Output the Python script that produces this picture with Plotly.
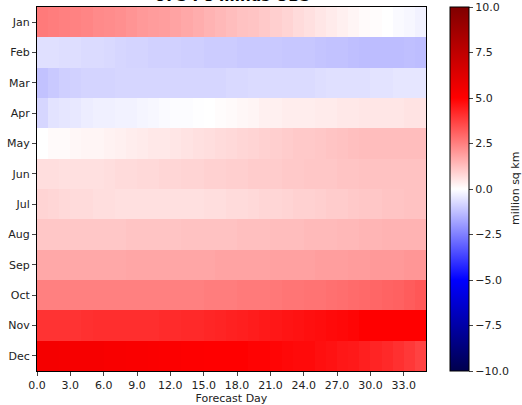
import plotly.graph_objects as go

months = ["Jan", "Feb", "Mar", "Apr", "May", "Jun", "Jul", "Aug", "Sep", "Oct", "Nov", "Dec"]
days = [d + 0.5 for d in range(35)]
xtick_vals = [0, 3, 6, 9, 12, 15, 18, 21, 24, 27, 30, 33]
xtick_text = ["0.0", "3.0", "6.0", "9.0", "12.0", "15.0", "18.0", "21.0", "24.0", "27.0", "30.0", "33.0"]
cbar_vals = [-10, -7.5, -5, -2.5, 0, 2.5, 5, 7.5, 10]
cbar_text = ["\u221210.0", "\u22127.5", "\u22125.0", "\u22122.5", "0.0", "2.5", "5.0", "7.5", "10.0"]

jan = [2.6, 2.55, 2.5, 2.45, 2.4, 2.3, 2.25, 2.2, 2.1, 2.0, 1.95, 1.9, 1.8, 1.7, 1.6, 1.5, 1.4, 1.3, 1.2, 1.15, 1.05, 0.95, 0.85, 0.7, 0.6, 0.5, 0.4, 0.3, 0.2, 0.1, 0.05, 0.0, -0.1, -0.15, -0.25]
feb = [-0.6, -0.6, -0.65, -0.65, -0.7, -0.7, -0.75, -0.8, -0.85, -0.85, -0.9, -0.9, -0.9, -0.95, -0.95, -1.0, -1.0, -1.0, -1.05, -1.05, -1.05, -1.05, -1.1, -1.1, -1.1, -1.15, -1.2, -1.2, -1.25, -1.3, -1.3, -1.3, -1.3, -1.25, -1.3]
mar = [-1.2, -1.05, -0.95, -0.9, -0.85, -0.85, -0.85, -0.8, -0.8, -0.8, -0.8, -0.8, -0.8, -0.8, -0.8, -0.8, -0.8, -0.75, -0.75, -0.7, -0.7, -0.7, -0.7, -0.7, -0.7, -0.65, -0.6, -0.6, -0.6, -0.6, -0.55, -0.55, -0.5, -0.5, -0.5]
apr = [-0.8, -0.55, -0.5, -0.45, -0.35, -0.3, -0.3, -0.25, -0.25, -0.2, -0.15, -0.1, -0.05, -0.05, -0.02, 0.0, 0.05, 0.1, 0.15, 0.2, 0.3, 0.3, 0.35, 0.35, 0.35, 0.4, 0.4, 0.45, 0.45, 0.5, 0.5, 0.5, 0.5, 0.55, 0.55]
may = [0.0, 0.1, 0.1, 0.15, 0.2, 0.2, 0.25, 0.3, 0.35, 0.4, 0.45, 0.45, 0.5, 0.55, 0.6, 0.65, 0.7, 0.75, 0.8, 0.85, 0.9, 0.95, 1.0, 1.05, 1.05, 1.1, 1.15, 1.2, 1.25, 1.3, 1.3, 1.3, 1.3, 1.3, 1.3]
jun = [0.65, 0.65, 0.6, 0.6, 0.6, 0.6, 0.65, 0.7, 0.7, 0.75, 0.75, 0.8, 0.8, 0.85, 0.85, 0.9, 0.9, 0.95, 0.95, 1.0, 1.0, 1.0, 1.05, 1.05, 1.1, 1.1, 1.1, 1.15, 1.15, 1.2, 1.2, 1.2, 1.2, 1.2, 1.2]
jul = [0.85, 0.8, 0.75, 0.7, 0.7, 0.65, 0.65, 0.6, 0.6, 0.6, 0.6, 0.6, 0.6, 0.6, 0.6, 0.65, 0.65, 0.7, 0.7, 0.75, 0.8, 0.8, 0.85, 0.9, 0.9, 0.95, 1.0, 1.0, 1.05, 1.1, 1.1, 1.15, 1.15, 1.2, 1.2]
aug = [1.1, 1.1, 1.1, 1.1, 1.1, 1.1, 1.1, 1.1, 1.15, 1.15, 1.15, 1.15, 1.15, 1.2, 1.2, 1.2, 1.2, 1.2, 1.25, 1.25, 1.25, 1.3, 1.3, 1.3, 1.35, 1.35, 1.35, 1.4, 1.4, 1.45, 1.45, 1.5, 1.5, 1.5, 1.5]
sep = [1.7, 1.7, 1.7, 1.7, 1.7, 1.7, 1.7, 1.7, 1.75, 1.75, 1.75, 1.75, 1.75, 1.75, 1.75, 1.75, 1.8, 1.8, 1.8, 1.8, 1.8, 1.85, 1.85, 1.85, 1.85, 1.9, 1.9, 1.9, 1.95, 1.95, 2.0, 2.0, 2.0, 2.05, 2.05]
oct_ = [2.5, 2.5, 2.5, 2.5, 2.5, 2.5, 2.5, 2.5, 2.5, 2.5, 2.5, 2.5, 2.5, 2.5, 2.5, 2.55, 2.55, 2.55, 2.6, 2.6, 2.6, 2.65, 2.7, 2.7, 2.75, 2.75, 2.8, 2.85, 2.9, 2.95, 3.0, 3.05, 3.1, 3.2, 3.3]
nov = [4.0, 4.0, 4.0, 4.0, 4.05, 4.1, 4.1, 4.1, 4.1, 4.1, 4.1, 4.15, 4.15, 4.2, 4.2, 4.25, 4.3, 4.35, 4.4, 4.45, 4.5, 4.55, 4.6, 4.65, 4.7, 4.75, 4.8, 4.85, 4.9, 5.0, 5.0, 5.0, 5.0, 5.0, 5.0]
dec = [5.4, 5.4, 5.35, 5.3, 5.3, 5.3, 5.25, 5.25, 5.2, 5.2, 5.15, 5.1, 5.1, 5.05, 5.05, 5.0, 5.0, 5.0, 5.0, 4.95, 4.95, 4.9, 4.85, 4.8, 4.8, 4.7, 4.65, 4.55, 4.5, 4.4, 4.3, 4.2, 4.05, 3.9, 3.7]

z = [jan, feb, mar, apr, may, jun, jul, aug, sep, oct_, nov, dec]

seismic = [
    [0.0, "rgb(0,0,77)"],
    [0.25, "rgb(0,0,255)"],
    [0.5, "rgb(255,255,255)"],
    [0.75, "rgb(255,0,0)"],
    [1.0, "rgb(128,0,0)"],
]

fnt = dict(family="DejaVu Sans", size=11, color="#222")

fig = go.Figure(go.Heatmap(
    z=z, x=days, y=months,
    zmin=-10, zmax=10, colorscale=seismic,
    colorbar=dict(
        x=1.062, xanchor="left", xref="paper", y=0.5, yanchor="middle",
        len=1.0, lenmode="fraction", thickness=19, xpad=0, ypad=0,
        outlinewidth=1, outlinecolor="black",
        tickvals=cbar_vals, ticktext=cbar_text, ticks="outside", ticklen=4,
        tickfont=fnt,
    ),
))

fig.add_annotation(
    text="<b>UFS P8 minus OBS</b>", x=0.5, y=1.0, xref="paper", yref="paper",
    xanchor="center", yanchor="bottom", showarrow=False,
    font=dict(family="DejaVu Sans", size=15, color="black"),
)
fig.add_annotation(
    text="million sq km", x=(515 - 37) / 389, y=0.5, xref="paper", yref="paper",
    xanchor="center", yanchor="middle", textangle=-90, showarrow=False,
    font=fnt,
)

fig.update_layout(
    width=522, height=405,
    margin=dict(l=37, r=96, t=7, b=34, autoexpand=False),
    paper_bgcolor="white", plot_bgcolor="white",
    font=fnt,
    xaxis=dict(range=[0, 35], tickvals=xtick_vals, ticktext=xtick_text,
               ticks="outside", ticklen=4, showgrid=False, zeroline=False,
               showline=True, linecolor="black", mirror=True, automargin=False,
               title=dict(text="Forecast Day", font=fnt, standoff=4)),
    yaxis=dict(autorange="reversed", ticks="outside", ticklen=4,
               showgrid=False, zeroline=False, automargin=False,
               showline=True, linecolor="black", mirror=True),
)

fig.write_html("out.html", config={"displayModeBar": False},
               post_script="document.body.style.margin='0';")
